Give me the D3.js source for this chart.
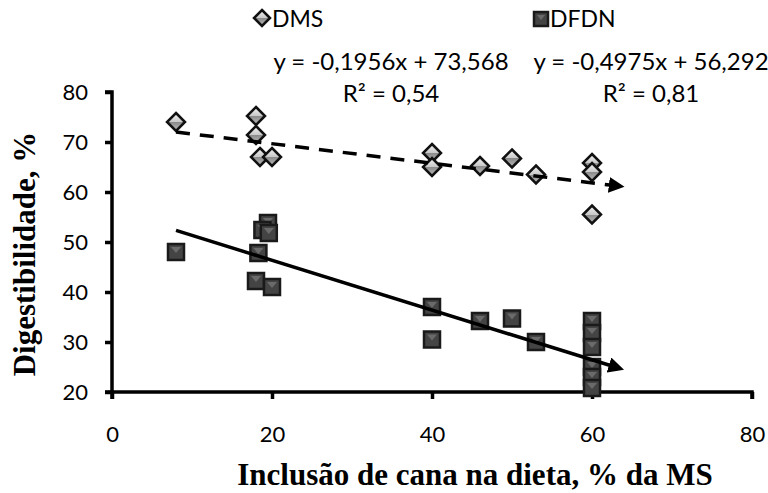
<!DOCTYPE html>
<html><head><meta charset="utf-8">
<script src="https://cdn.jsdelivr.net/npm/d3@7"></script>
<style>body{margin:0;background:#fff}svg{display:block}</style>
</head><body><svg id="c" width="768" height="493"></svg>
<script>
const xTicks = [0, 20, 40, 60, 80];
const yTicks = [20, 30, 40, 50, 60, 70, 80];
const dmsX = [8, 18, 18, 18.5, 20, 40, 40, 46, 50, 53, 60, 60, 60];
const dmsY = [74, 75.2, 71.4, 67, 67, 67.8, 65, 65.2, 66.7, 63.5, 65.8, 64, 55.5];
const dfdnX = [8, 19.5, 18.8, 19.6, 18.3, 18, 20, 40, 40, 46, 50, 53, 60, 60, 60, 60, 60, 60];
const dfdnY = [48, 53.8, 52.4, 51.8, 47.8, 42.2, 41, 37, 30.5, 34.2, 34.7, 30, 34.2, 31.8, 29, 25, 23, 20.8];
const trendDMS = {slope: -0.1956, intercept: 73.568, x0: 8, x1: 62.5};
const trendDFDN = {slope: -0.4975, intercept: 56.292, x0: 8, x1: 62.5};
const seriesNames = ["DMS", "DFDN"];
const eqDMS = ["y = -0,1956x + 73,568", "R² = 0,54"];
const eqDFDN = ["y = -0,4975x + 56,292", "R² = 0,81"];

const svg = d3.select("#c");
const x = d3.scaleLinear().domain([0, 80]).range([112, 752]);
const y = d3.scaleLinear().domain([20, 80]).range([392, 92]);
const font = "Lato, 'Open Sans', sans-serif";
const serif = "'Liberation Serif', 'Times New Roman', serif";

const defs = svg.append("defs");
const g1 = defs.append("linearGradient").attr("id","dg").attr("x1","0").attr("y1","0").attr("x2","0").attr("y2","1");
g1.append("stop").attr("offset","0").attr("stop-color","#f4f4f4");
g1.append("stop").attr("offset","0.5").attr("stop-color","#c8c8c8");
g1.append("stop").attr("offset","0.5").attr("stop-color","#8a8a8a");
g1.append("stop").attr("offset","1").attr("stop-color","#bdbdbd");
defs.append("marker").attr("id","arr").attr("viewBox","0 0 10 10").attr("refX","2").attr("refY","5")
  .attr("markerWidth","4.5").attr("markerHeight","4.5").attr("orient","auto")
  .append("path").attr("d","M0,0 L10,5 L0,10 z").attr("fill","#000");

// axes
const yAxis = svg.append("g").attr("transform","translate(112,0)")
  .call(d3.axisLeft(y).tickValues(yTicks).tickSize(7).tickPadding(17));
const xAxis = svg.append("g").attr("transform","translate(0,392)")
  .call(d3.axisBottom(x).tickValues(xTicks).tickSize(7).tickPadding(27));
[yAxis, xAxis].forEach(a => {
  a.select(".domain").attr("stroke","#000").attr("stroke-width",3.5);
  a.selectAll(".tick line").attr("stroke","#000").attr("stroke-width",3.5);
  a.selectAll("text").attr("font-family",font).attr("font-size",22).attr("fill","#000");
});
yAxis.select(".domain").attr("d","M-7,92H0V392H-7");
xAxis.select(".domain").attr("d","M112,7V0H752V7");

function trend(t, dashed) {
  svg.append("line")
    .attr("x1", x(t.x0)).attr("y1", y(t.slope*t.x0 + t.intercept))
    .attr("x2", x(t.x1)).attr("y2", y(t.slope*t.x1 + t.intercept))
    .attr("stroke","#000").attr("stroke-width",3.5)
    .attr("stroke-dasharray", dashed ? "14,10" : null)
    .attr("marker-end","url(#arr)");
}
function diamond(sel, cx, cy, r) {
  sel.append("path").attr("d", `M${cx},${cy-r}L${cx+r},${cy}L${cx},${cy+r}L${cx-r},${cy}Z`)
    .attr("fill","url(#dg)").attr("stroke","#111").attr("stroke-width",2.5);
}
function square(sel, cx, cy, s) {
  const g = sel.append("g");
  g.append("rect").attr("x",cx-s/2).attr("y",cy-s/2).attr("width",s).attr("height",s)
    .attr("fill","#444").attr("stroke","#1a1a1a").attr("stroke-width",2.5);
  g.append("path").attr("d",`M${cx-s/2+3},${cy-s/2+3}L${cx+s/2-3},${cy-s/2+3}L${cx},${cy+1}Z`).attr("fill","#6a6a6a");
}

const pts = svg.append("g");
dfdnX.forEach((v,i) => square(pts, x(v), y(dfdnY[i]), 16));
trend(trendDFDN, false);
const pd = svg.append("g");
dmsX.forEach((v,i) => diamond(pd, x(v), y(dmsY[i]), 9));
trend(trendDMS, true);

// legend
diamond(svg, 262, 18, 8);
svg.append("text").attr("x",272).attr("y",27).text(seriesNames[0]).attr("font-family",font).attr("font-size",23);
square(svg, 541, 19, 14);
svg.append("text").attr("x",550).attr("y",27).text(seriesNames[1]).attr("font-family",font).attr("font-size",23);

// equations
const eq = [[eqDMS, 391], [eqDFDN, 651]];
eq.forEach(([lines, cx]) => {
  svg.append("text").attr("x",cx).attr("y",70).attr("text-anchor","middle").text(lines[0]).attr("font-family",font).attr("font-size",24);
  svg.append("text").attr("x",cx).attr("y",102).attr("text-anchor","middle").text(lines[1]).attr("font-family",font).attr("font-size",24);
});

// axis titles
svg.append("text").attr("x",475).attr("y",485).attr("text-anchor","middle")
  .text("Inclusão de cana na dieta, % da MS")
  .attr("font-family",serif).attr("font-weight","bold").attr("font-size",31);
svg.append("text").attr("transform","translate(35,254) rotate(-90)").attr("text-anchor","middle")
  .text("Digestibilidade, %")
  .attr("font-family",serif).attr("font-weight","bold").attr("font-size",31);
</script></body></html>
